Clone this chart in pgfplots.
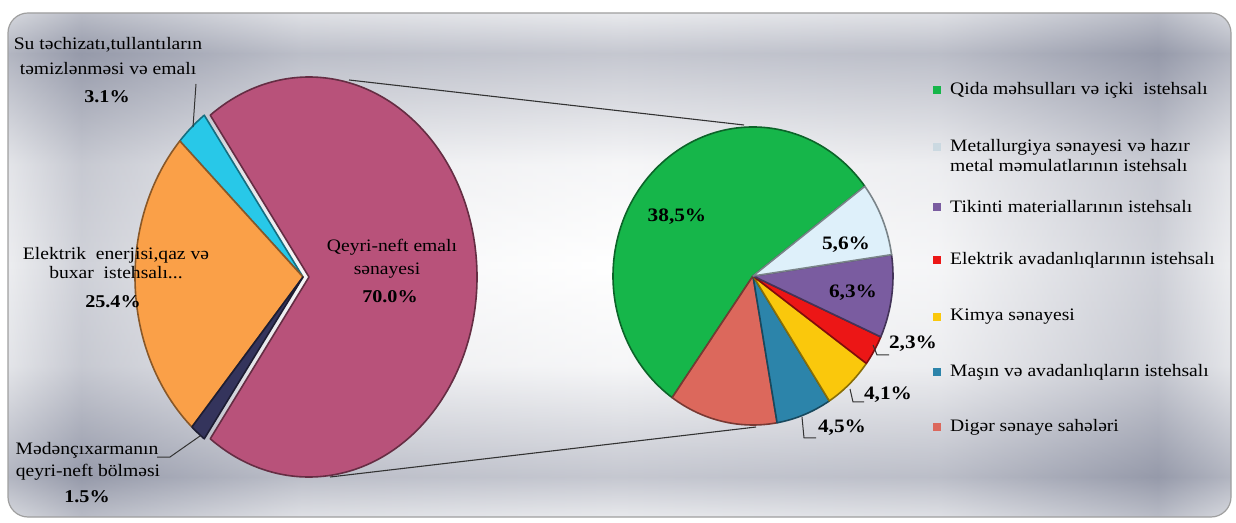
\documentclass[border=0pt]{standalone}
\usepackage{pgfplots}
\pgfplotsset{compat=1.18}
\usepackage{pgfplotstable}
\usepackage{fontspec}
\setmainfont{Liberation Serif}[FakeStretch=1.12]

\definecolor{cPink}{RGB}{184,82,122}
\definecolor{cCyan}{RGB}{40,200,232}
\definecolor{cOrange}{RGB}{250,160,72}
\definecolor{cNavy}{RGB}{52,52,92}
\definecolor{cGreen}{RGB}{22,182,74}
\definecolor{cWhite}{RGB}{222,240,250}
\definecolor{cPurple}{RGB}{122,92,160}
\definecolor{cRed}{RGB}{236,22,22}
\definecolor{cYellow}{RGB}{250,200,12}
\definecolor{cTeal}{RGB}{44,132,170}
\definecolor{cSalmon}{RGB}{220,104,92}
\definecolor{bgEdge}{RGB}{214,216,222}
\definecolor{bgDark}{RGB}{150,154,170}

\pgfdeclarehorizontalshading{bgh}{100bp}{color(0bp)=(bgEdge); color(25bp)=(bgEdge); color(28bp)=(bgDark); color(37bp)=(white!80!bgDark); color(50bp)=(white); color(63bp)=(white!80!bgDark); color(72bp)=(bgDark); color(75bp)=(bgEdge); color(100bp)=(bgEdge)}
\pgfdeclareverticalshading{bgv}{100bp}{color(0bp)=(bgEdge); color(25bp)=(bgEdge); color(29bp)=(bgDark); color(40bp)=(white!85!bgDark); color(50bp)=(white); color(60bp)=(white!85!bgDark); color(71bp)=(bgDark); color(75bp)=(bgEdge); color(100bp)=(bgEdge)}

% left pie: share of total (percent), colour, centre x (pixels)
\pgfplotstableread{
value col cx
70.0 cPink 309
3.1 cCyan 303
25.4 cOrange 303
1.5 cNavy 303
}\leftdata
% right pie: breakdown of the manufacturing sector (percent of total)
\pgfplotstableread{
value col
38.5 cGreen
8.8 cSalmon
4.5 cTeal
4.1 cYellow
2.3 cRed
6.3 cPurple
5.6 cWhite
}\rightdata

\newcommand{\pieslice}[7]{%
  \filldraw[fill=#7, draw=#7!55!black, line width=1.6pt, line join=round]
    (axis cs:#1,#2) -- ++(#5:#3pt and #4pt)
    arc[start angle=#5, end angle=#6, x radius=#3pt, y radius=#4pt] -- cycle;}
\newcommand{\txt}{\fontsize{17.5}{20}\selectfont}
\newcommand{\pct}{\fontsize{18}{21}\selectfont\bfseries}
\newcommand{\rpct}{\fontsize{19}{22}\selectfont\bfseries}

\begin{document}
\begin{tikzpicture}
\begin{axis}[width=1236pt, height=522pt, scale only axis,
  xmin=0, xmax=1236, ymin=-522, ymax=0, hide axis, clip=false]
% background panel
\pgfplotsextra{%
  \path (axis cs:0,0) rectangle (axis cs:1236,-522);
  \shade[shading=bgh, rounded corners=20pt] (axis cs:8,-13) rectangle (axis cs:1231,-517);
  \shade[shading=bgv, rounded corners=20pt, opacity=0.55] (axis cs:8,-13) rectangle (axis cs:1231,-517);
  \draw[gray!75, line width=1.2pt, rounded corners=20pt] (axis cs:8,-13) rectangle (axis cs:1231,-517);
}
% left pie
\pgfplotsextra{%
  \xdef\acc{-126}%
  \foreach \i in {0,...,3}{%
    \pgfplotstablegetelem{\i}{value}\of\leftdata \edef\sval{\pgfplotsretval}%
    \pgfplotstablegetelem{\i}{col}\of\leftdata \edef\scol{\pgfplotsretval}%
    \pgfplotstablegetelem{\i}{cx}\of\leftdata \edef\scx{\pgfplotsretval}%
    \pgfmathsetmacro\aend{\acc+3.6*\sval}%
    \pieslice{\scx}{-277}{168}{200}{\acc}{\aend}{\scol}%
    \xdef\acc{\aend}%
  }%
}
% right pie
\pgfplotsextra{%
  \xdef\acc{37}%
  \foreach \i in {0,...,6}{%
    \pgfplotstablegetelem{\i}{value}\of\rightdata \edef\sval{\pgfplotsretval}%
    \pgfplotstablegetelem{\i}{col}\of\rightdata \edef\scol{\pgfplotsretval}%
    \pgfmathsetmacro\aend{\acc+360/70.1*\sval}%
    \pieslice{753}{-276}{140}{149}{\acc}{\aend}{\scol}%
    \xdef\acc{\aend}%
  }%
}
% connector lines
\draw[black!80, line width=1.1pt] (axis cs:349,-80) -- (axis cs:744,-125);
\draw[black!80, line width=1.1pt] (axis cs:330,-477) -- (axis cs:756,-427);
% left labels
\node[font=\txt, inner sep=0] at (axis cs:108,-45) {Su təchizatı,tullantıların};
\node[font=\txt, inner sep=0] at (axis cs:108,-69) {təmizlənməsi və emalı};
\node[font=\pct, inner sep=0] at (axis cs:107,-97) {3.1\%};
\draw[black!80, line width=1pt] (axis cs:196,-84) -- (axis cs:193,-127);
\node[font=\txt, inner sep=0] at (axis cs:116,-255) {Elektrik\ \ enerjisi,qaz və};
\node[font=\txt, inner sep=0] at (axis cs:116,-273) {buxar\ \ istehsalı...};
\node[font=\pct, inner sep=0] at (axis cs:113,-302) {25.4\%};
\node[font=\txt, inner sep=0] at (axis cs:392,-247) {Qeyri-neft emalı};
\node[font=\txt, inner sep=0] at (axis cs:387,-271) {sənayesi};
\node[font=\pct, inner sep=0] at (axis cs:390,-297) {70.0\%};
\node[font=\txt, inner sep=0] at (axis cs:87,-450) {Mədənçıxarmanın};
\node[font=\txt, inner sep=0] at (axis cs:88,-472) {qeyri-neft bölməsi};
\node[font=\pct, inner sep=0] at (axis cs:87,-497) {1.5\%};
\draw[black!80, line width=1pt] (axis cs:157,-457) -- (axis cs:170,-457) -- (axis cs:200,-436);
% right labels
\node[font=\rpct, inner sep=0] at (axis cs:677,-217) {38,5\%};
\node[font=\rpct, inner sep=0] at (axis cs:846,-245) {5,6\%};
\node[font=\rpct, inner sep=0] at (axis cs:853,-293) {6,3\%};
\node[font=\rpct, inner sep=0] at (axis cs:913,-344) {2,3\%};
\draw[black!80, line width=1pt] (axis cs:873,-345) -- (axis cs:877,-355) -- (axis cs:889,-355);
\node[font=\rpct, inner sep=0] at (axis cs:888,-395) {4,1\%};
\draw[black!80, line width=1pt] (axis cs:850,-389) -- (axis cs:853,-402) -- (axis cs:864,-402);
\node[font=\rpct, inner sep=0] at (axis cs:842,-428) {4,5\%};
\draw[black!80, line width=1pt] (axis cs:802,-417) -- (axis cs:804,-438) -- (axis cs:816,-438);
% legend markers
\addplot[only marks, mark=square*, mark size=3.6pt, color=cGreen] coordinates {(937,-90)};
\addplot[only marks, mark=square*, mark size=3.6pt, color=cWhite!80!gray] coordinates {(937,-147)};
\addplot[only marks, mark=square*, mark size=3.6pt, color=cPurple] coordinates {(937,-207)};
\addplot[only marks, mark=square*, mark size=3.6pt, color=cRed] coordinates {(937,-260)};
\addplot[only marks, mark=square*, mark size=3.6pt, color=cYellow] coordinates {(937,-317)};
\addplot[only marks, mark=square*, mark size=3.6pt, color=cTeal] coordinates {(937,-372)};
\addplot[only marks, mark=square*, mark size=3.6pt, color=cSalmon] coordinates {(937,-427)};
% legend texts
\node[font=\txt, inner sep=0, anchor=west] at (axis cs:950,-90) {Qida məhsulları və içki\ \ istehsalı};
\node[font=\txt, inner sep=0, anchor=west] at (axis cs:950,-147) {Metallurgiya sənayesi və hazır};
\node[font=\txt, inner sep=0, anchor=west] at (axis cs:950,-166) {metal məmulatlarının istehsalı};
\node[font=\txt, inner sep=0, anchor=west] at (axis cs:950,-207) {Tikinti materiallarının istehsalı};
\node[font=\txt, inner sep=0, anchor=west] at (axis cs:950,-260) {Elektrik avadanlıqlarının istehsalı};
\node[font=\txt, inner sep=0, anchor=west] at (axis cs:950,-317) {Kimya sənayesi};
\node[font=\txt, inner sep=0, anchor=west] at (axis cs:950,-372) {Maşın və avadanlıqların istehsalı};
\node[font=\txt, inner sep=0, anchor=west] at (axis cs:950,-427) {Digər sənaye sahələri};
\end{axis}
\end{tikzpicture}
\end{document}
